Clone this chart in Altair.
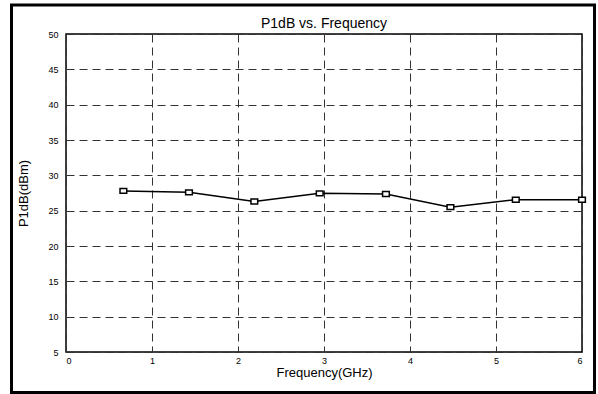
import altair as alt
import pandas as pd

freq = [0.667, 1.43, 2.19, 2.95, 3.72, 4.47, 5.23, 6.0]
p1db = [27.8, 27.6, 26.3, 27.45, 27.36, 25.5, 26.55, 26.55]
x_ticks = [0, 1, 2, 3, 4, 5, 6]
y_ticks = [5, 10, 15, 20, 25, 30, 35, 40, 45, 50]
chart_title = "P1dB vs. Frequency"

df = pd.DataFrame({"freq": freq, "p1db": p1db})
FONT = "Liberation Sans"

x_enc = alt.X("freq:Q", scale=alt.Scale(domain=[0, 6], nice=False),
              axis=alt.Axis(values=x_ticks, tickCount=20, title="Frequency(GHz)", format="d",
                            ticks=False, domain=False, grid=True, labelOverlap=False,
                            gridColor="#333", gridDash=[8, 5], gridWidth=1,
                            labelFontSize=9, labelPadding=4, labelColor="black",
                            labelFont=FONT, titleFont=FONT, titleFontSize=13,
                            titleFontWeight="normal", titleColor="black",
                            titlePadding=1))
y_enc = alt.Y("p1db:Q", scale=alt.Scale(domain=[5, 50], nice=False, zero=False),
              axis=alt.Axis(values=y_ticks, tickCount=20, title="P1dB(dBm)", format="d",
                            ticks=False, domain=False, grid=True, labelOverlap=False,
                            gridColor="#333", gridDash=[8, 5], gridWidth=1,
                            labelFontSize=9, labelPadding=8, labelColor="black",
                            labelFont=FONT, titleFont=FONT, titleFontSize=13,
                            titleFontWeight="normal", titleColor="black",
                            titlePadding=17))

line = alt.Chart(df).mark_line(color="black", strokeWidth=1.5).encode(x=x_enc, y=y_enc)
pts = alt.Chart(df).mark_point(
    shape="M-1,-0.72L1,-0.72L1,0.72L-1,0.72Z", size=45, filled=False,
    color="black", fill="white", fillOpacity=1, strokeWidth=1.5, opacity=1
).encode(x=x_enc, y=y_enc)

base = alt.Chart(pd.DataFrame({"t": [chart_title]}))
frame = base.mark_rect(
    fill=None, stroke="black", strokeWidth=3, clip=False
).encode(x=alt.value(-54.5), x2=alt.value(528.5), y=alt.value(-29), y2=alt.value(358.5))
title = base.mark_text(
    font=FONT, fontSize=14, color="black", align="center", baseline="alphabetic"
).encode(text="t:N", x=alt.value(258), y=alt.value(-6.5))

chart = alt.layer(line, pts, frame, title).properties(
    width=516, height=318,
    autosize=alt.AutoSizeParams(type="none"),
    padding={"left": 66, "top": 34, "right": 16, "bottom": 42},
    background="white",
).configure_view(stroke="black", strokeWidth=1.5)

chart.save("out.html", embed_options={"renderer": "svg", "actions": False})
